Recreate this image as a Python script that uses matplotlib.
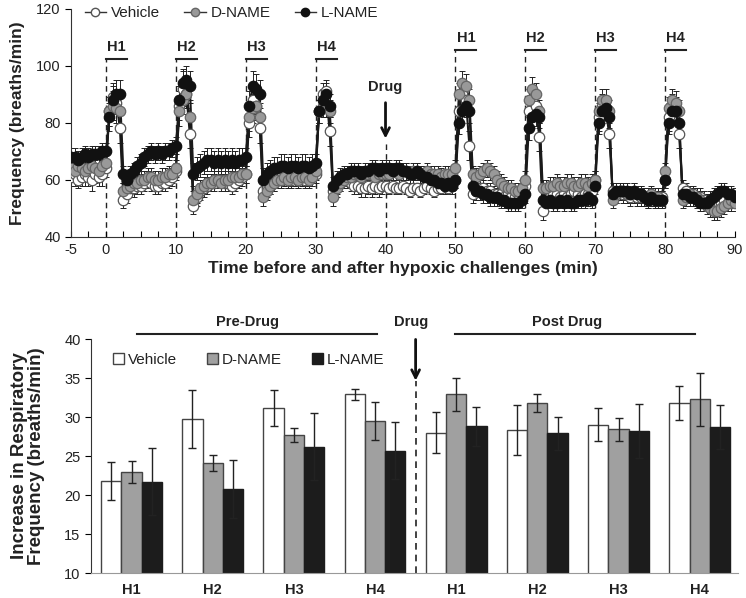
import numpy as np
import matplotlib
matplotlib.use('Agg')
import matplotlib.pyplot as plt
from matplotlib.lines import Line2D
from matplotlib.patches import Patch

plt.rcParams['font.family'] = ['Liberation Sans', 'DejaVu Sans']
plt.rcParams['axes.unicode_minus'] = False

# ---- top panel: time course (0.5 min samples from -5 to 90 min) ----
time_min = np.arange(-5, 90.5, 0.5)

# values read per 10-min block: pre-baseline (-5..-0.5), then blocks at 0,10,...,80, then 90
veh_freq = [61, 62, 60, 61, 62, 61, 60, 62, 61, 62,
            64, 84, 89, 87, 78, 53, 55, 57, 57, 58, 58, 59, 60, 59, 58, 58, 59, 59, 60, 61,
            63, 86, 92, 90, 76, 51, 54, 56, 57, 58, 59, 59, 60, 60, 59, 59, 58, 59, 60, 61,
            62, 80, 88, 86, 78, 56, 57, 58, 59, 60, 60, 61, 60, 60, 61, 60, 61, 60, 61, 61,
            62, 84, 90, 91, 77, 56, 58, 59, 60, 60, 59, 58, 58, 57, 57, 58, 57, 58, 57, 58,
            58, 57, 58, 57, 57, 58, 57, 56, 57, 57, 56, 57, 58, 57, 56, 57, 57, 58, 57, 58,
            60, 84, 90, 88, 72, 55, 56, 57, 57, 56, 56, 55, 55, 55, 54, 55, 54, 54, 55, 55,
            58, 84, 88, 86, 75, 49, 53, 54, 55, 55, 54, 55, 54, 55, 56, 55, 54, 55, 55, 56,
            60, 82, 86, 85, 76, 56, 55, 56, 55, 55, 54, 55, 54, 54, 54, 53, 54, 54, 53, 54,
            60, 82, 86, 85, 76, 57, 56, 55, 55, 54, 54, 53, 52, 51, 50, 51, 52, 53, 52, 52,
            53]
veh_err = [3, 4, 3, 3, 4, 3, 4, 3, 3, 4,
           3, 5, 5, 4, 5, 3, 3, 3, 3, 3, 3, 3, 3, 3, 3, 3, 3, 3, 3, 3,
           3, 5, 6, 5, 5, 3, 3, 3, 3, 3, 3, 3, 3, 3, 3, 3, 3, 3, 3, 3,
           3, 5, 5, 5, 5, 3, 3, 3, 3, 3, 3, 3, 3, 3, 3, 3, 3, 3, 3, 3,
           3, 4, 4, 4, 5, 3, 3, 3, 3, 3, 3, 3, 3, 3, 3, 3, 3, 3, 3, 3,
           2, 2, 2, 2, 2, 2, 2, 2, 2, 2, 2, 2, 2, 2, 2, 2, 2, 2, 2, 2,
           3, 5, 4, 4, 5, 3, 3, 3, 3, 3, 3, 3, 3, 3, 3, 3, 3, 3, 3, 3,
           3, 5, 4, 4, 5, 3, 3, 3, 3, 3, 3, 3, 3, 3, 3, 3, 3, 3, 3, 3,
           3, 5, 4, 4, 5, 3, 3, 3, 3, 3, 3, 3, 3, 3, 3, 3, 3, 3, 3, 3,
           3, 5, 4, 4, 5, 3, 3, 3, 3, 3, 3, 3, 3, 3, 3, 3, 3, 3, 3, 3,
           3]

dname_freq = [64, 63, 65, 64, 63, 64, 65, 64, 63, 65,
              66, 84, 86, 85, 84, 56, 57, 58, 59, 59, 60, 60, 61, 61, 60, 60, 61, 61, 62, 62,
              64, 84, 88, 90, 82, 53, 55, 57, 58, 59, 59, 60, 60, 59, 60, 60, 61, 61, 61, 62,
              62, 82, 85, 86, 82, 54, 56, 58, 59, 60, 60, 61, 60, 61, 61, 60, 61, 61, 60, 61,
              63, 84, 86, 86, 84, 54, 57, 59, 60, 61, 61, 62, 62, 61, 62, 62, 62, 61, 62, 62,
              62, 62, 63, 63, 62, 63, 63, 62, 63, 63, 62, 62, 63, 62, 62, 62, 61, 62, 62, 62,
              64, 90, 94, 93, 88, 62, 61, 62, 63, 64, 63, 62, 60, 59, 58, 57, 57, 56, 56, 57,
              60, 88, 92, 90, 84, 57, 57, 58, 58, 59, 58, 58, 59, 59, 58, 58, 59, 59, 58, 59,
              60, 84, 88, 88, 84, 53, 55, 56, 56, 55, 55, 56, 55, 55, 54, 54, 55, 54, 54, 53,
              63, 85, 88, 87, 84, 53, 54, 55, 54, 54, 53, 52, 51, 50, 49, 49, 50, 51, 52, 53,
              52]
dname_err = [3, 3, 3, 3, 3, 3, 3, 3, 3, 3,
             3, 5, 5, 5, 5, 3, 3, 3, 3, 3, 3, 3, 3, 3, 3, 3, 3, 3, 3, 3,
             3, 5, 5, 5, 5, 3, 3, 3, 3, 3, 3, 3, 3, 3, 3, 3, 3, 3, 3, 3,
             3, 5, 5, 5, 5, 3, 3, 3, 3, 3, 3, 3, 3, 3, 3, 3, 3, 3, 3, 3,
             3, 4, 4, 4, 4, 3, 3, 3, 3, 3, 3, 3, 3, 3, 3, 3, 3, 3, 3, 3,
             3, 3, 3, 3, 3, 3, 3, 3, 3, 3, 3, 3, 3, 3, 3, 3, 3, 3, 3, 3,
             3, 4, 4, 4, 4, 3, 3, 3, 3, 3, 3, 3, 3, 3, 3, 3, 3, 3, 3, 3,
             3, 4, 4, 4, 4, 3, 3, 3, 3, 3, 3, 3, 3, 3, 3, 3, 3, 3, 3, 3,
             3, 4, 4, 4, 4, 3, 3, 3, 3, 3, 3, 3, 3, 3, 3, 3, 3, 3, 3, 3,
             3, 4, 4, 4, 4, 3, 3, 3, 3, 3, 3, 3, 3, 3, 3, 3, 3, 3, 3, 3,
             3]

lname_freq = [68, 68, 67, 68, 69, 68, 69, 69, 69, 70,
              70, 82, 88, 90, 90, 62, 60, 62, 63, 65, 66, 68, 69, 70, 69, 70, 69, 70, 70, 71,
              72, 88, 94, 95, 93, 62, 64, 65, 66, 67, 67, 66, 67, 66, 67, 66, 67, 66, 67, 67,
              68, 86, 93, 92, 90, 60, 62, 63, 64, 64, 65, 65, 64, 65, 65, 64, 65, 65, 64, 65,
              66, 84, 88, 90, 86, 58, 60, 61, 62, 62, 63, 63, 63, 62, 63, 63, 64, 64, 63, 64,
              64, 64, 63, 64, 64, 63, 63, 62, 62, 63, 62, 61, 61, 60, 60, 59, 59, 58, 59, 58,
              60, 80, 84, 86, 84, 58, 56, 56, 55, 55, 54, 54, 54, 53, 53, 52, 52, 52, 52, 53,
              55, 78, 82, 83, 82, 53, 52, 53, 52, 52, 53, 52, 53, 52, 52, 53, 53, 53, 54, 53,
              58, 80, 84, 85, 82, 55, 56, 56, 56, 56, 55, 56, 55, 55, 54, 53, 54, 53, 53, 53,
              60, 80, 84, 84, 80, 55, 55, 54, 54, 53, 52, 52, 52, 53, 54, 55, 56, 56, 55, 55,
              54]
lname_err = [3, 3, 3, 3, 3, 3, 3, 3, 3, 3,
             3, 5, 5, 5, 5, 3, 3, 3, 3, 3, 3, 3, 3, 3, 3, 3, 3, 3, 3, 3,
             3, 5, 5, 5, 5, 4, 4, 4, 4, 4, 4, 4, 4, 4, 4, 4, 4, 4, 4, 4,
             3, 5, 5, 5, 5, 4, 4, 4, 4, 4, 4, 4, 4, 4, 4, 4, 4, 4, 4, 4,
             3, 4, 4, 4, 4, 3, 3, 3, 3, 3, 3, 3, 3, 3, 3, 3, 3, 3, 3, 3,
             3, 3, 3, 3, 3, 3, 3, 3, 3, 3, 3, 3, 3, 3, 3, 3, 3, 3, 3, 3,
             3, 4, 4, 4, 4, 3, 3, 3, 3, 3, 3, 3, 3, 3, 3, 3, 3, 3, 3, 3,
             3, 4, 4, 4, 4, 3, 3, 3, 3, 3, 3, 3, 3, 3, 3, 3, 3, 3, 3, 3,
             3, 4, 4, 4, 4, 3, 3, 3, 3, 3, 3, 3, 3, 3, 3, 3, 3, 3, 3, 3,
             3, 4, 4, 4, 4, 3, 3, 3, 3, 3, 3, 3, 3, 3, 3, 3, 3, 3, 3, 3,
             3]

hyp_pre = [0, 10, 20, 30]
hyp_post = [50, 60, 70, 80]
hyp_labels = ['H1', 'H2', 'H3', 'H4']

# ---- bottom panel: increase in frequency ----
groups = ['H1', 'H2', 'H3', 'H4', 'H1', 'H2', 'H3', 'H4']
veh_inc = [21.8, 29.7, 31.1, 32.9, 28.0, 28.3, 29.0, 31.8]
veh_inc_err = [2.4, 3.7, 2.3, 0.7, 2.6, 3.2, 2.1, 2.2]
dname_inc = [23.0, 24.1, 27.7, 29.5, 32.9, 31.8, 28.4, 32.3]
dname_inc_err = [1.4, 1.0, 0.9, 2.4, 2.1, 1.1, 1.5, 3.4]
lname_inc = [21.7, 20.8, 26.2, 25.7, 28.8, 27.9, 28.2, 28.7]
lname_inc_err = [4.3, 3.7, 4.3, 3.7, 2.5, 2.1, 3.5, 2.8]

fig = plt.figure(figsize=(7.46, 5.98), dpi=100)
ax1 = fig.add_axes([0.0952, 0.6037, 0.890, 0.382])
ax2 = fig.add_axes([0.122, 0.0418, 0.867, 0.3913])

txt = '#222222'
series = [(veh_freq, veh_err, 'white', '#555555', 'Vehicle'),
          (dname_freq, dname_err, '#999999', '#666666', 'D-NAME'),
          (lname_freq, lname_err, '#111111', '#111111', 'L-NAME')]
for vals, err, fc, ec, lab in series:
    ax1.errorbar(time_min, vals, yerr=err, fmt='none', ecolor='#222222',
                 elinewidth=0.7, capsize=2, capthick=0.7, zorder=2)
for vals, err, fc, ec, lab in series:
    ax1.plot(time_min, vals, '-', color='#1a1a1a', lw=1.5, zorder=3)
    ax1.plot(time_min, vals, 'o', ms=7.5, mfc=fc, mec=ec, mew=0.9, zorder=4)

ax1.set_xlim(-5, 90)
ax1.set_ylim(40, 120)
ax1.set_yticks([40, 60, 80, 100, 120])
ax1.set_xticks([-5, 0, 10, 20, 30, 40, 50, 60, 70, 80, 90])
ax1.set_xticks(np.arange(-5, 90.1, 2.5), minor=True)
ax1.tick_params(axis='x', which='both', direction='in', length=4, width=0.8,
                labelsize=10.5, labelcolor=txt, pad=4)
ax1.tick_params(axis='y', direction='out', length=4, width=0.8,
                labelsize=10.5, labelcolor=txt)
for s in ['top', 'right']:
    ax1.spines[s].set_visible(False)
ax1.spines['left'].set_color('#333333')
ax1.spines['bottom'].set_color('#333333')
ax1.set_xlabel('Time before and after hypoxic challenges (min)', fontsize=12.5,
               fontweight='bold', color=txt, labelpad=3)
ax1.set_ylabel('Frequency (breaths/min)', fontsize=12.5, fontweight='bold',
               color=txt, labelpad=8)

for t0, lab in zip(hyp_pre, hyp_labels):
    ax1.plot([t0, t0], [40, 102.5], ls=(0, (4, 3)), color='#222222', lw=1, zorder=1)
    ax1.plot([t0, t0 + 3], [102.5, 102.5], color='#222222', lw=1.5)
    ax1.text(t0 + 1.5, 106.5, lab, ha='center', va='center', fontsize=10.5,
             fontweight='bold', color=txt)
for t0, lab in zip(hyp_post, hyp_labels):
    ax1.plot([t0, t0], [40, 105.6], ls=(0, (4, 3)), color='#222222', lw=1, zorder=1)
    ax1.plot([t0, t0 + 3], [105.6, 105.6], color='#222222', lw=1.5)
    ax1.text(t0 + 1.5, 109.6, lab, ha='center', va='center', fontsize=10.5,
             fontweight='bold', color=txt)
ax1.plot([40, 40], [40, 74], ls=(0, (4, 3)), color='#222222', lw=1, zorder=1)
ax1.annotate('', xy=(40, 73.5), xytext=(40, 88),
             arrowprops=dict(arrowstyle='->', lw=2, color='#111111', mutation_scale=14))
ax1.text(40, 92.5, 'Drug', ha='center', va='center', fontsize=10.5,
         fontweight='bold', color=txt)

h_top = [Line2D([], [], color='#333333', lw=1, marker='o', ms=6, mfc=fc, mec=ec)
         for _, _, fc, ec, _ in series]
ax1.legend(h_top, ['Vehicle', 'D-NAME', 'L-NAME'], loc='upper left',
           bbox_to_anchor=(0.0, 1.07), ncol=3, frameon=False, fontsize=11,
           handlelength=1.4, handletextpad=0.3, columnspacing=1.6, labelcolor=txt)

# ---- bottom bars ----
x = np.arange(len(groups))
w = 0.25
ax2.bar(x - w, veh_inc, w, color='white', edgecolor='#444444', lw=1, zorder=2)
ax2.bar(x, dname_inc, w, color='#a0a0a0', edgecolor='#444444', lw=1, zorder=2)
ax2.bar(x + w, lname_inc, w, color='#1c1c1c', edgecolor='#1c1c1c', lw=1, zorder=2)
for off, vals, err in [(-w, veh_inc, veh_inc_err), (0, dname_inc, dname_inc_err),
                       (w, lname_inc, lname_inc_err)]:
    ax2.errorbar(x + off, vals, yerr=err, fmt='none', ecolor='#222222',
                 elinewidth=1, capsize=3, capthick=1, zorder=3)

ax2.set_xlim(-0.5, 7.47)
ax2.set_ylim(10, 40)
ax2.set_yticks(np.arange(10, 41, 5))
ax2.set_xticks(x)
ax2.set_xticklabels(groups, fontweight='bold', fontsize=10.5, color=txt)
ax2.tick_params(axis='x', length=0, pad=7)
ax2.tick_params(axis='y', direction='out', length=4, width=0.8,
                labelsize=10.5, labelcolor=txt)
for s in ['top', 'right']:
    ax2.spines[s].set_visible(False)
ax2.spines['left'].set_color('#333333')
ax2.spines['bottom'].set_color('#999999')
ax2.set_ylabel('Increase in Respiratory\nFrequency (breaths/min)', fontsize=13.5,
               fontweight='bold', color=txt, labelpad=14, linespacing=1.0)

ax2.plot([3.5, 3.5], [10, 34.6], ls=(0, (4, 3)), color='#222222', lw=1.2, zorder=1)
ax2.annotate('', xy=(3.5, 34.3), xytext=(3.5, 40.3), annotation_clip=False,
             arrowprops=dict(arrowstyle='->', lw=2, color='#111111', mutation_scale=14))
ax2.text(3.44, 42.2, 'Drug', ha='center', va='center', fontsize=10.5,
         fontweight='bold', color=txt, clip_on=False)
ax2.plot([0.07, 3.02], [40.65, 40.65], color='#222222', lw=1.5, clip_on=False)
ax2.text(1.43, 42.2, 'Pre-Drug', ha='center', va='center', fontsize=10.5,
         fontweight='bold', color=txt)
ax2.plot([3.98, 6.94], [40.65, 40.65], color='#222222', lw=1.5, clip_on=False)
ax2.text(5.36, 42.2, 'Post Drug', ha='center', va='center', fontsize=10.5,
         fontweight='bold', color=txt)

h_bot = [Patch(facecolor='white', edgecolor='#444444'),
         Patch(facecolor='#a0a0a0', edgecolor='#444444'),
         Patch(facecolor='#1c1c1c', edgecolor='#1c1c1c')]
ax2.legend(h_bot, ['Vehicle', 'D-NAME', 'L-NAME'], loc='upper left',
           bbox_to_anchor=(0.013, 1.0), ncol=3, frameon=False, fontsize=11,
           handlelength=0.7, handleheight=0.7, handletextpad=0.25,
           columnspacing=2.0, labelcolor=txt)

fig.savefig('out.png', dpi=100)
